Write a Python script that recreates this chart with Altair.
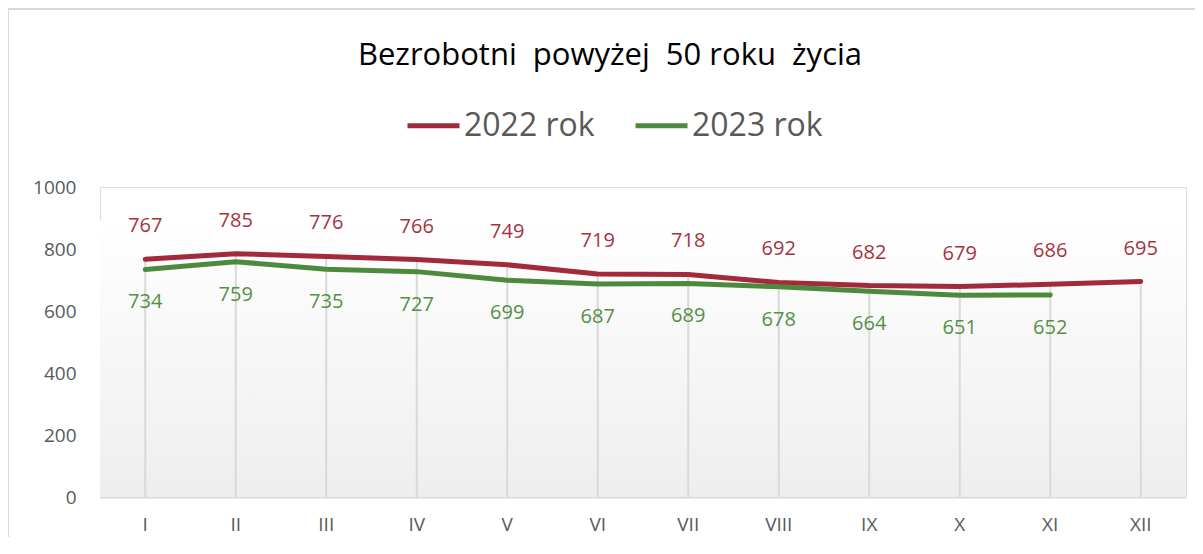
import altair as alt
import pandas as pd

months = ["I", "II", "III", "IV", "V", "VI", "VII", "VIII", "IX", "X", "XI", "XII"]
v2022 = [767, 785, 776, 766, 749, 719, 718, 692, 682, 679, 686, 695]
v2023 = [734, 759, 735, 727, 699, 687, 689, 678, 664, 651, 652]
series = ["2022 rok", "2023 rok"]
colors = ["#A32A3C", "#4E8A3E"]
label_colors = ["#A5343F", "#559045"]
title_text = "Bezrobotni\u00a0 powyżej\u00a0 50 roku\u00a0 życia"

rows = []
for m, v in zip(months, v2022):
    rows.append({"month": m, "value": v, "series": series[0]})
for m, v in zip(months, v2023):
    rows.append({"month": m, "value": v, "series": series[1]})
df = pd.DataFrame(rows)

drop = pd.DataFrame({
    "month": months,
    "top": [max(a, b) if b is not None else a
            for a, b in zip(v2022, v2023 + [None] * (len(v2022) - len(v2023)))],
})

W, H = 1086, 310
FONT = "Open Sans"

xenc = alt.X("month:N", sort=months, scale=alt.Scale(paddingInner=1, paddingOuter=0.5),
             axis=alt.Axis(title=None, labelAngle=0, labelFontSize=19, labelColor="#595959",
                           labelFont=FONT, ticks=False, domainColor="#d9d9d9", domainWidth=2,
                           labelPadding=18, grid=False))
yscale = alt.Scale(domain=[0, 1000])

border = alt.Chart(alt.Data(values=[{}])).mark_rect(
    fill=None, stroke="#d9d9d9", strokeWidth=2, clip=False
).encode(x=alt.value(-92), x2=alt.value(1200), y=alt.value(-178), y2=alt.value(400))

bg = alt.Chart(alt.Data(values=[{}])).mark_rect(
    color=alt.LinearGradient(gradient="linear",
                             stops=[alt.GradientStop(color="#ffffff", offset=0),
                                    alt.GradientStop(color="#eeeeee", offset=1)],
                             x1=0, x2=0, y1=0, y2=1)
).encode(x=alt.value(0), x2=alt.value(W), y=alt.value(33), y2=alt.value(H))

rules = alt.Chart(drop).mark_rule(color="#d9d9d9", strokeWidth=2).encode(
    x=xenc,
    y=alt.Y("top:Q", scale=yscale),
    y2=alt.datum(0),
)

lines = alt.Chart(df).mark_line(strokeWidth=5, strokeCap="round", strokeJoin="round").encode(
    x=xenc,
    y=alt.Y("value:Q", scale=yscale,
            axis=alt.Axis(title=None, values=[0, 200, 400, 600, 800, 1000], format="d",
                          labelFontSize=19,
                          labelColor="#595959", labelFont=FONT, ticks=False, domain=False,
                          grid=False, labelPadding=24)),
    color=alt.Color("series:N", scale=alt.Scale(domain=series, range=colors),
                    legend=alt.Legend(title=None, orient="none", direction="horizontal",
                                      legendX=305, legendY=-90, symbolType="M-1,0L1,0",
                                      symbolSize=2704, symbolStrokeWidth=5,
                                      labelFontSize=32, labelColor="#595959", labelFont=FONT,
                                      labelOffset=2, columnPadding=30)),
)

lab22 = alt.Chart(df[df.series == series[0]]).mark_text(
    dy=-33, fontSize=20, font=FONT, color=label_colors[0], baseline="middle"
).encode(x=xenc, y=alt.Y("value:Q", scale=yscale), text="value:Q")

lab23 = alt.Chart(df[df.series == series[1]]).mark_text(
    dy=33, fontSize=20, font=FONT, color=label_colors[1], baseline="middle"
).encode(x=xenc, y=alt.Y("value:Q", scale=yscale), text="value:Q")

chart = alt.layer(border, bg, rules, lines, lab22, lab23).properties(
    width=W, height=H,
    title=alt.TitleParams(title_text, font=FONT, fontSize=31, fontWeight="normal",
                          color="#000000", anchor="middle", frame="group", dx=-33,
                          offset=-64),
    padding={"left": 92, "top": 179, "right": 9, "bottom": 40},
    autosize=alt.AutoSizeParams(type="none"),
).configure_view(stroke=None).configure(background="white")

chart.save("out.html", embed_options={"renderer": "svg", "actions": False})
